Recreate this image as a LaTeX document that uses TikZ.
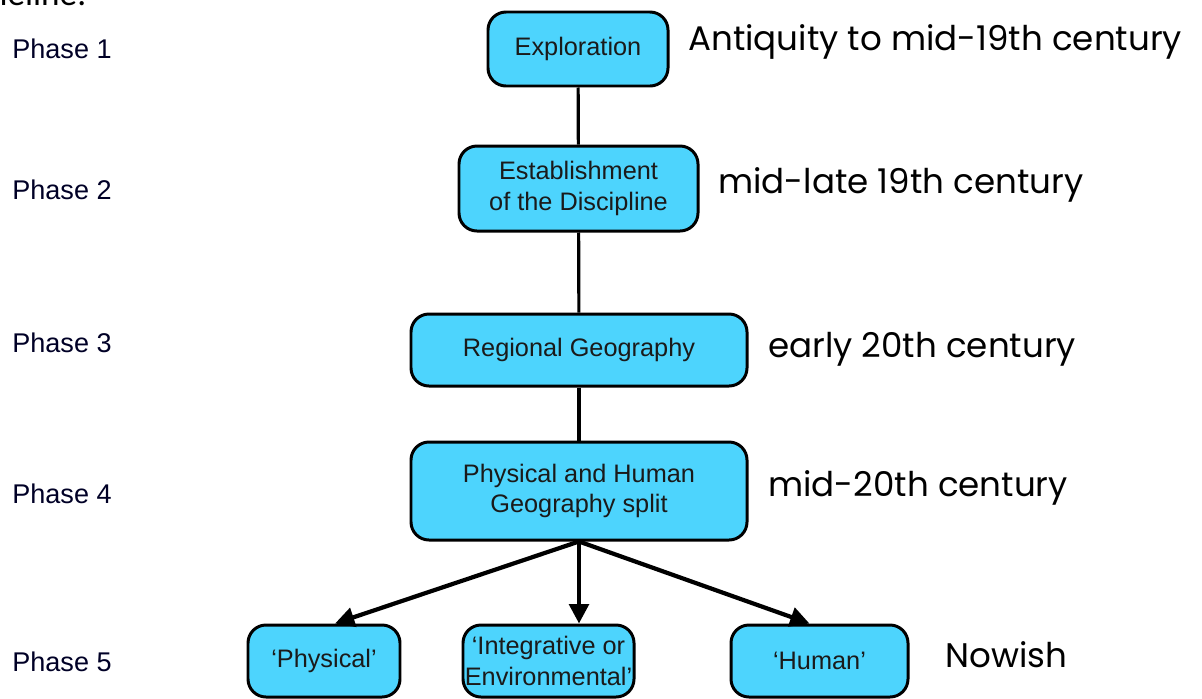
\documentclass[tikz,border=0pt]{standalone}
\usepackage{fontspec}
\setmainfont{Liberation Sans}
\newfontfamily\notefont{Poppins}
\newfontfamily\docfont{Carlito}
\usetikzlibrary{arrows.meta}

\definecolor{boxfill}{HTML}{4DD4FD}
\definecolor{boxtext}{HTML}{1A1A1A}

\tikzset{
    phasebox/.style={draw=black, line width=1.7pt, fill=boxfill, rounded corners=0.36cm,
        text=boxtext, align=center, inner sep=0pt,
        font=\fontsize{14.4}{17.5}\selectfont},
    phaselabel/.style={anchor=west, inner sep=0pt, text=black!85!blue,
        font=\fontsize{15.4}{18}\selectfont},
    datenote/.style={anchor=west, inner sep=0pt,
        font=\notefont\fontsize{19.4}{22}\selectfont},
    link/.style={line width=1.8pt},
    branch/.style={line width=2.4pt, -{Triangle[width=11pt, length=11pt]}}
}

\begin{document}
\begin{tikzpicture}
    \useasboundingbox (0,0) rectangle (24.04,-13.96);
    \clip (0,0) rectangle (24.04,-13.96);

    % cut-off line of the document above
    \node (docline) at (-0.81,-0.1) [anchor=base west, inner sep=0pt, font=\docfont\fontsize{20}{24}\selectfont] {timeline:};

    % boxes
    \node (explore) at (11.56,-0.98) [phasebox, minimum width=3.6cm, minimum height=1.48cm] {Exploration};
    \node (establish) at (11.57,-3.77) [phasebox, minimum width=4.78cm, minimum height=1.7cm] {Establishment\\of the Discipline};
    \node (regional) at (11.58,-7.0) [phasebox, minimum width=6.72cm, minimum height=1.44cm] {Regional Geography};
    \node (split) at (11.58,-9.82) [phasebox, minimum width=6.72cm, minimum height=1.96cm] {Physical and Human\\Geography split};
    \node (physical) at (6.48,-13.22) [phasebox, minimum width=3.04cm, minimum height=1.44cm] {`Physical'};
    \node (integ) at (10.97,-13.22) [phasebox, minimum width=3.42cm, minimum height=1.44cm] {`Integrative or\\Environmental'};
    \node (human) at (16.39,-13.22) [phasebox, minimum width=3.54cm, minimum height=1.44cm] {`Human'};

    % phase labels
    \node (p1) at (0.24,-0.98) [phaselabel] {Phase 1};
    \node (p2) at (0.24,-3.8) [phaselabel] {Phase 2};
    \node (p3) at (0.24,-6.86) [phaselabel] {Phase 3};
    \node (p4) at (0.24,-9.88) [phaselabel] {Phase 4};
    \node (p5) at (0.24,-13.24) [phaselabel] {Phase 5};

    % dates
    \node (d1) at (13.76,-0.84) [datenote] {Antiquity to mid-19th century};
    \node (d2) at (14.36,-3.7) [datenote] {mid-late 19th century};
    \node (d3) at (15.36,-6.98) [datenote] {early 20th century};
    \node (d4) at (15.36,-9.76) [datenote] {mid-20th century};
    \node (d5) at (18.9,-13.1) [datenote] {Nowish};

    % timeline
    \draw [link] (explore)--(establish);
    \draw [link] (establish)--(regional);
    \draw [link] (regional)--(split);

    % split into three
    \draw [branch] (split.south)--([xshift=0.22cm]physical.north);
    \draw [branch] (split.south)--(split.south |- integ.north);
    \draw [branch] (split.south)--([xshift=-0.2cm]human.north);

\end{tikzpicture}
\end{document}
